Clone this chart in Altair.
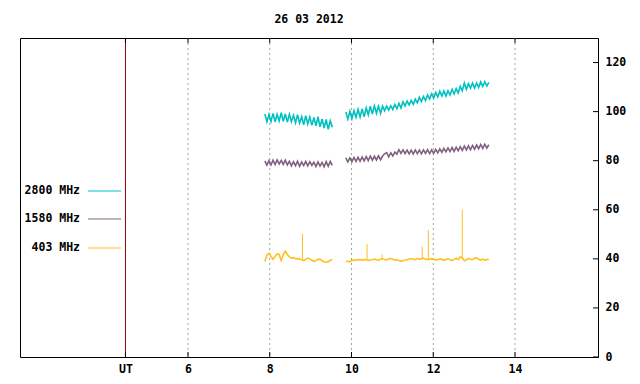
import altair as alt
import pandas as pd

# ---------------- data ----------------
series_names = ["2800 MHz", "1580 MHz", "403 MHz"]
series_colors = ["#00c0c0", "#806080", "#ffc020"]

seg1_start, seg2_start, step = 7.88, 9.86, 0.05

teal_seg1 = [99.0, 95.9, 98.8, 96.0, 99.3, 95.8, 98.9, 96.2, 99.6, 96.0, 99.1, 95.7, 98.9, 95.9,
             98.5, 95.4, 98.7, 95.3, 97.9, 94.6, 98.3, 95.0, 97.8, 94.4, 97.6, 94.2, 97.9, 93.8,
             97.0, 93.3, 96.8, 92.8, 96.3, 93.6]
teal_seg2 = [99.9, 97.0, 100.1, 97.1, 100.4, 97.7, 100.9, 97.8, 101.1, 97.9, 101.5, 98.7, 102.2,
             99.0, 102.3, 99.3, 102.2, 99.3, 102.2, 100.3, 102.2, 100.6, 102.4, 100.8, 102.9, 101.2,
             103.4, 101.5, 104.0, 102.3, 104.3, 102.7, 104.6, 103.0, 105.1, 103.6, 105.8, 104.1,
             106.2, 104.5, 106.8, 105.1, 107.3, 105.5, 107.8, 106.0, 108.3, 106.3, 108.4, 106.3,
             108.5, 106.8, 109.1, 107.2, 109.4, 107.6, 110.3, 108.5, 111.6, 109.1, 111.4, 109.6,
             111.6, 109.6, 111.7, 109.9, 112.1, 110.2, 112.2, 110.4, 111.9]

purple_seg1 = [79.9, 78.2, 80.0, 78.3, 80.2, 78.4, 80.3, 78.6, 80.1, 78.5, 80.2, 78.3, 79.8, 77.9,
               79.6, 78.0, 79.8, 77.7, 79.5, 78.0, 79.7, 77.9, 79.6, 78.1, 79.4, 77.6, 79.5, 77.8,
               79.3, 77.5, 79.6, 77.7, 79.7, 78.1]
purple_seg2 = [81.2, 79.5, 81.1, 79.6, 81.3, 79.7, 81.4, 79.8, 81.5, 79.9, 81.7, 80.0, 81.9, 80.2,
               81.8, 80.3, 82.0, 80.4, 81.9,
               82.8, 83.3, 81.6, 83.2, 81.9, 83.5,
               82.7, 84.5, 83.0, 84.4, 82.9, 84.3, 82.8, 84.3, 82.7, 84.4, 82.9, 84.3, 82.8, 84.4,
               83.0, 84.5, 82.9, 84.4,
               83.0, 84.6, 83.2, 84.8, 83.4, 85.0, 83.6, 85.2, 83.7, 85.4,
               83.8, 85.5, 84.0, 85.7, 84.2, 86.0, 84.4, 86.1, 84.5, 86.2,
               84.7, 86.4, 84.9, 86.6, 85.0, 86.7, 85.1, 86.5]

yellow_seg1 = [38.9, 41.5, 42.3, 41.0, 39.8, 41.0, 42.0, 41.8, 39.3, 41.7, 43.2, 41.8, 40.8, 40.3,
               40.5, 40.1, 40.0, 39.9, 39.6, 39.3, 39.8, 40.3, 40.0, 39.4, 39.0, 39.3, 39.8, 39.9,
               39.2, 38.8, 38.6, 38.8, 39.4, 39.7]
yellow_seg2 = [38.9, 39.0, 38.8, 39.3, 39.5, 39.6, 39.6, 39.7, 39.5, 39.7, 39.6, 39.4, 39.5, 39.6,
               39.9, 39.6, 39.5, 39.8, 40.0, 39.7, 39.6, 39.9, 40.2, 39.8, 39.5, 39.6, 39.3, 39.1,
               39.3, 39.4, 39.6, 39.9, 40.1, 39.8, 39.7, 40.2, 39.8, 39.9, 40.3, 39.8, 39.7, 39.9,
               40.0, 39.9, 39.5, 39.7, 39.9, 39.8, 39.4, 39.7, 40.0, 39.6, 39.3, 39.8, 40.3, 39.7,
               40.8, 40.5, 39.2, 39.6, 40.2, 39.8, 39.7, 40.3, 40.4, 39.8, 39.5, 39.9, 39.4, 39.8,
               39.7]

spike_times = [8.80, 10.38, 10.75, 11.73, 11.88, 12.71]
spike_base = [39.6, 39.7, 39.8, 39.8, 39.8, 39.8]
spike_peak = [50.2, 46.1, 41.8, 45.0, 51.8, 60.0]

x_ticks = [6, 8, 10, 12, 14]
ut_pos = 4.47
y_ticks = [0, 20, 40, 60, 80, 100, 120]
title_text = "26 03 2012"

# ---------------- build tables ----------------
rows = []
for name, s1, s2 in [(series_names[0], teal_seg1, teal_seg2),
                     (series_names[1], purple_seg1, purple_seg2),
                     (series_names[2], yellow_seg1, yellow_seg2)]:
    for seg, (start, vals) in enumerate([(seg1_start, s1), (seg2_start, s2)]):
        for i, v in enumerate(vals):
            rows.append({"series": name, "seg": f"{name}-{seg}", "t": start + i * step, "v": v})
df = pd.DataFrame(rows)
spikes = pd.DataFrame({"t": spike_times, "b": spike_base, "p": spike_peak})
xt = pd.DataFrame({"t": x_ticks})
ut = pd.DataFrame({"t": [ut_pos]})
yt = pd.DataFrame({"v": y_ticks})
axis_vals = pd.DataFrame({"t": [ut_pos] + x_ticks})

FONT = "DejaVu Sans Mono"
W, H = 578, 319
xs = alt.Scale(domain=[1.89, 16.03], nice=False, zero=False)
ys = alt.Scale(domain=[0, 130], nice=False, zero=False)
color = alt.Color("series:N", scale=alt.Scale(domain=series_names, range=series_colors), legend=None)
width_enc = alt.StrokeWidth("series:N", scale=alt.Scale(domain=series_names, range=[1.6, 1.6, 1]),
                            legend=None)

x_axis = alt.Axis(values=[ut_pos] + x_ticks, ticks=False, domain=False, grid=False,
                  labelExpr="datum.value < 5 ? 'UT' : datum.label", labelFont=FONT,
                  labelFontSize=11.5, labelFontWeight="bold", labelColor="black",
                  labelPadding=6, labelFlush=False, title=None)
y_axis = alt.Axis(orient="right", values=y_ticks, ticks=False, domain=False, grid=False,
                  labelFont=FONT, labelFontSize=11.5, labelFontWeight="bold",
                  labelColor="black", labelPadding=7, labelFlush=False, title=None)


def X(field):
    return alt.X(field, scale=xs, axis=x_axis, title=None)


def Y(field):
    return alt.Y(field, scale=ys, axis=y_axis, title=None)


grid = alt.Chart(xt).mark_rule(color="#a0a0a0", strokeDash=[2, 3], strokeWidth=1).encode(
    x=X("t:Q"))
ut_line = alt.Chart(ut).mark_rule(color="#900000", strokeWidth=1).encode(x=X("t:Q"))
bot_ticks = alt.Chart(axis_vals).mark_rule(color="black").encode(
    x=X("t:Q"), y=alt.value(H), y2=alt.value(H - 5))
top_ticks = alt.Chart(axis_vals).mark_rule(color="black").encode(
    x=X("t:Q"), y=alt.value(0), y2=alt.value(5))
right_ticks = alt.Chart(yt).mark_rule(color="black").encode(
    y=Y("v:Q"), x=alt.value(W - 5), x2=alt.value(W))

lines = alt.Chart(df).mark_line(interpolate="linear").encode(
    x=X("t:Q"), y=Y("v:Q"), color=color, strokeWidth=width_enc, detail="seg:N")

spike_rules = alt.Chart(spikes).mark_rule(color=series_colors[2], strokeWidth=1).encode(
    x=X("t:Q"), y=Y("b:Q"), y2="p:Q")

legend_layers = []
legend_y = [153, 181, 210]
for name, col, ly in zip(series_names, series_colors, legend_y):
    ldf = pd.DataFrame({"label": [name]})
    legend_layers.append(
        alt.Chart(ldf).mark_text(font=FONT, fontSize=11.5, fontWeight="bold", align="right",
                                 baseline="middle", color="black").encode(
            text="label:N", x=alt.value(60), y=alt.value(ly)))
    legend_layers.append(
        alt.Chart(ldf).mark_rule(color=col, strokeWidth=1).encode(
            x=alt.value(68), x2=alt.value(101), y=alt.value(ly)))

chart = alt.layer(grid, ut_line, bot_ticks, top_ticks, right_ticks, lines, spike_rules,
                  *legend_layers).properties(
    width=W, height=H,
    title=alt.TitleParams(title_text, font=FONT, fontSize=11.5, fontWeight="bold",
                          anchor="middle", offset=12, color="black"),
    autosize=alt.AutoSizeParams(type="none"),
    padding={"left": 12, "top": 30, "right": 34, "bottom": 20},
).configure_view(stroke="black", strokeWidth=1)

chart.save("out.html", embed_options={"renderer": "svg", "actions": False})
